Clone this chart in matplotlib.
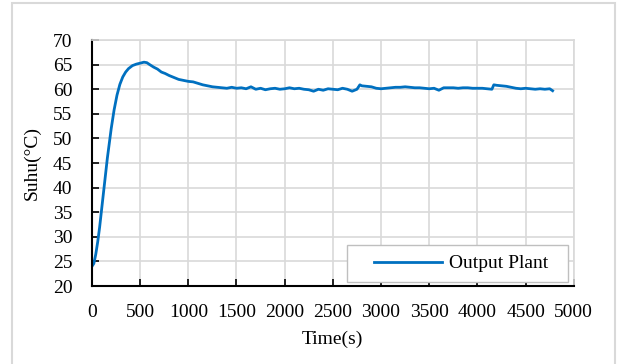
import matplotlib
matplotlib.use("Agg")
import matplotlib.pyplot as plt
from matplotlib.patches import Rectangle

plt.rcParams["font.family"] = ["Liberation Serif", "DejaVu Serif"]

# data
time_s = [0, 20, 40, 60, 80, 100, 120, 140, 160, 180, 200, 230, 260, 290, 320, 350, 380,
          420, 460, 500, 540, 570, 600, 640, 680, 720, 760, 800, 850, 900, 950, 1000, 1050,
          1100, 1150, 1200, 1250, 1300, 1350, 1400, 1450, 1500, 1550, 1600, 1650, 1700, 1750,
          1800, 1850, 1900, 1950, 2000, 2050, 2100, 2150, 2200, 2250, 2300, 2350, 2400, 2450,
          2500, 2550, 2600, 2650, 2700, 2750, 2780, 2800, 2850, 2900, 2950, 3000, 3050, 3100,
          3150, 3200, 3250, 3300, 3350, 3400, 3450, 3500, 3550, 3600, 3650, 3700, 3750, 3800,
          3850, 3900, 3950, 4000, 4050, 4100, 4150, 4170, 4200, 4250, 4300, 4350, 4400, 4450,
          4500, 4550, 4600, 4650, 4700, 4750, 4780]
suhu = [24.0, 24.6, 26.5, 29.0, 32.0, 35.5, 39.0, 42.5, 46.0, 49.0, 52.0, 55.8, 58.8, 61.0,
        62.5, 63.5, 64.2, 64.8, 65.1, 65.3, 65.5, 65.4, 65.0, 64.5, 64.1, 63.5, 63.2, 62.8,
        62.4, 62.0, 61.8, 61.6, 61.5, 61.2, 60.9, 60.7, 60.5, 60.4, 60.3, 60.2, 60.4, 60.2,
        60.3, 60.1, 60.5, 60.0, 60.2, 59.9, 60.1, 60.2, 60.0, 60.1, 60.3, 60.1, 60.2, 60.0,
        59.9, 59.6, 60.0, 59.8, 60.1, 60.0, 59.9, 60.2, 60.0, 59.6, 60.0, 60.9, 60.7, 60.6,
        60.5, 60.2, 60.1, 60.2, 60.3, 60.4, 60.4, 60.5, 60.4, 60.3, 60.3, 60.2, 60.1, 60.2,
        59.8, 60.3, 60.3, 60.3, 60.2, 60.3, 60.3, 60.2, 60.2, 60.2, 60.1, 60.0, 60.9, 60.8,
        60.7, 60.6, 60.4, 60.2, 60.1, 60.2, 60.1, 60.0, 60.1, 60.0, 60.1, 59.7]

fig = plt.figure(figsize=(6.17, 3.64), dpi=100)
# chart area border (light grey, runs off the bottom edge)
fig.add_artist(Rectangle((12 / 617, -0.05), 603 / 617, 1 - 3.5 / 364 + 0.05,
                         transform=fig.transFigure, fill=False,
                         edgecolor="#d9d9d9", linewidth=1.5, clip_on=False))
ax = fig.add_axes([0.149, 0.214, 0.781, 0.676])

ax.plot(time_s, suhu, color="#0070C0", linewidth=2, label="Output Plant")

ax.set_xlim(0, 5000)
ax.set_ylim(20, 70)
ax.set_xticks(range(0, 5001, 500))
ax.set_yticks(range(20, 71, 5))
ax.grid(color="#d9d9d9", linewidth=1.2)
ax.set_axisbelow(True)
for s in ["top", "right"]:
    ax.spines[s].set_color("#d9d9d9")
    ax.spines[s].set_linewidth(1.2)
for s in ["left", "bottom"]:
    ax.spines[s].set_color("black")
    ax.spines[s].set_linewidth(1.5)
ax.tick_params(direction="in", length=5, width=1.2, labelsize=14)
ax.tick_params(axis="y", pad=14)
ax.tick_params(axis="x", pad=13)
ax.tick_params(top=False, right=False)

ax.set_xlabel("Time(s)", fontsize=14, labelpad=7)
ax.set_ylabel("Suhu(°C)", fontsize=14, labelpad=9)

# Excel-style legend box: wider padding left/right than matplotlib gives
ax.add_patch(Rectangle((0.529, 0.016), 0.459, 0.151, transform=ax.transAxes,
                       facecolor="white", edgecolor="#bfbfbf", linewidth=1.0,
                       zorder=4.9))
leg = ax.legend(loc="center", fontsize=14, frameon=False, handlelength=3.5,
                handletextpad=0.35, borderpad=0, borderaxespad=0,
                bbox_to_anchor=(0.766, 0.0915))

fig.savefig("out.png", dpi=100)
